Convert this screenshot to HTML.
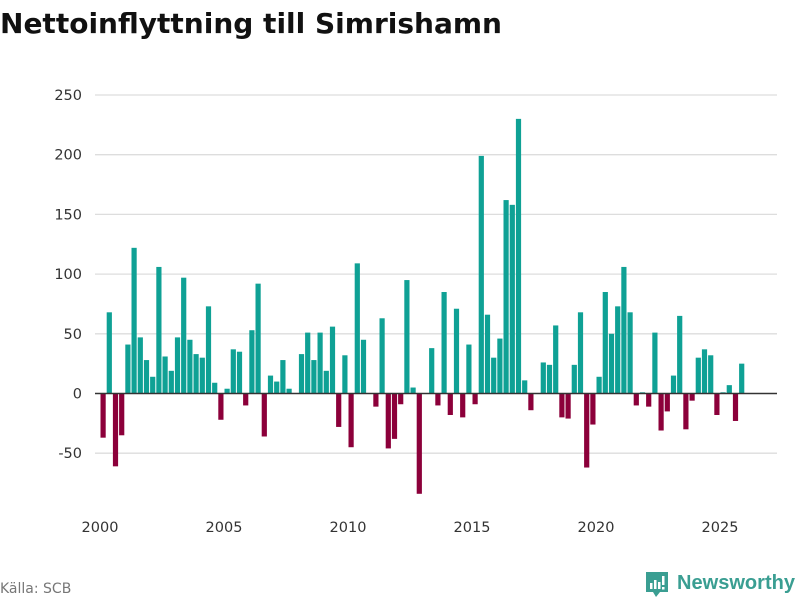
<!DOCTYPE html>
<html><head><meta charset="utf-8">
<style>
body{margin:0;background:#fff;font-family:"Liberation Sans","DejaVu Sans",sans-serif;}
#wrap{position:relative;width:800px;height:600px;overflow:hidden;}
</style></head>
<body>
<div id="wrap">
<svg id="chart" width="800" height="600">
  <text x="0" y="33" font-size="28" font-weight="bold" fill="#111" font-family="'DejaVu Sans','Liberation Sans',sans-serif" textLength="502" lengthAdjust="spacingAndGlyphs">Nettoinflyttning till Simrishamn</text>
  <g id="grid"></g>
  <g id="bars"></g>
  <g id="axis"></g>
  <text x="0" y="593" font-size="14" fill="#777" font-family="'DejaVu Sans','Liberation Sans',sans-serif">Källa: SCB</text>
  <g>
    <path d="M646 572 h22 v20 h-8 l-4 5 l-3 -5 h-7 z" fill="#3a9e92"/>
    <rect x="650" y="583" width="2.5" height="6" fill="#fff"/>
    <rect x="654" y="580" width="2.5" height="9" fill="#fff"/>
    <rect x="658" y="582" width="2.5" height="7" fill="#fff"/>
    <rect x="662" y="576" width="2.5" height="9" fill="#fff"/>
    <rect x="662" y="587" width="2.5" height="2.5" fill="#fff"/>
    <text x="677" y="589" font-size="20" font-weight="bold" fill="#3a9e92" font-family="'Liberation Sans',sans-serif" textLength="118" lengthAdjust="spacingAndGlyphs">Newsworthy</text>
  </g>
</svg>
</div>
<script>
const startYear = 2000;
const values = [-37,68,-61,-35, 41,122,47,28, 14,106,31,19, 47,97,45,33, 30,73,9,-22,
 4,37,35,-10, 53,92,-36,15, 10,28,4,0, 33,51,28,51, 19,56,-28,32, -45,109,45,0,
 -11,63,-46,-38, -9,95,5,-84, 0,38,-10,85, -18,71,-20,41, -9,199,66,30, 46,162,158,230,
 11,-14,0,26, 24,57,-20,-21, 24,68,-62,-26, 14,85,50,73, 106,68,-10,1, -11,51,-31,-15,
 15,65,-30,-6, 30,37,32,-18, 1,7,-23,25];
const yTicks = [-50,0,50,100,150,200,250];
const xTicks = [2000,2005,2010,2015,2020,2025];

const NS="http://www.w3.org/2000/svg";
const y0=393.5, pxPerUnit=59.7/50;
const yS=v=>y0-v*pxPerUnit;
const xS=t=>100+(t-2000)*24.8;
const grid=document.getElementById('grid'), bars=document.getElementById('bars'), axis=document.getElementById('axis');
function mk(tag,attrs,parent){const e=document.createElementNS(NS,tag);for(const k in attrs)e.setAttribute(k,attrs[k]);parent.appendChild(e);return e;}
yTicks.forEach(v=>{
  if(v!==0){
    const l=mk('line',{x1:95,x2:777,y1:yS(v),y2:yS(v),stroke:'#ddd','stroke-width':1.3},grid);
    
    
  }
  const t=mk('text',{x:82,y:yS(v)+5,'text-anchor':'end','font-size':14.5,fill:'#333','font-family':"'DejaVu Sans','Liberation Sans',sans-serif"},axis);
  t.textContent=v;
  
  
});
xTicks.forEach(v=>{
  const t=mk('text',{x:xS(v),y:532,'text-anchor':'middle','font-size':14.5,fill:'#333','font-family':"'DejaVu Sans','Liberation Sans',sans-serif"},axis);
  t.textContent=v;
  
  
});
values.forEach((v,i)=>{
  const t=startYear+(i+0.5)/4;
  const cx=xS(t);
  const top=Math.min(yS(v),y0), h=Math.abs(yS(v)-y0);
  const r=mk('rect',{x:cx-2.6,y:top,width:5.2,height:h,fill:v>=0?'#0fa195':'#8c003a'},bars);
  
  
});
const zl=mk('line',{x1:95,x2:777,y1:y0,y2:y0,stroke:'#333','stroke-width':1.5},axis);


</script>
</body></html>
